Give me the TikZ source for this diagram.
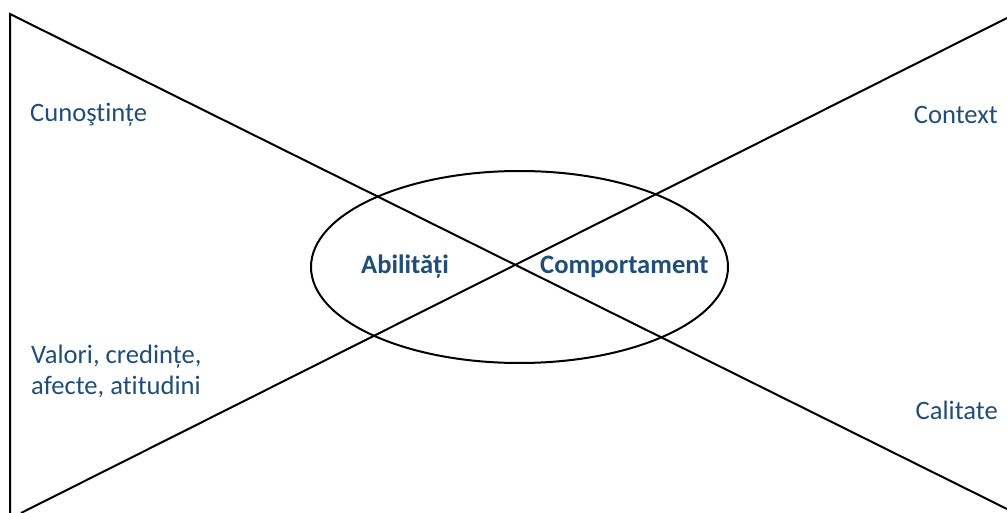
\documentclass[tikz,border=0pt]{standalone}
\usepackage{fontspec}
\usetikzlibrary{shapes.geometric}
\setmainfont[Ligatures=NoCommon]{Carlito}
\definecolor{txtblue}{RGB}{31,78,121}
\begin{document}
\begin{tikzpicture}[x=1pt,y=-1pt,
  lbl/.style={text=txtblue,font=\fontsize{26.6}{31}\selectfont,inner sep=0pt},
  blbl/.style={text=txtblue,font=\fontsize{26.6}{31}\selectfont\bfseries,inner sep=0pt},
  ln/.style={line width=2pt,black}]
\useasboundingbox (0,0) rectangle (1007,513);
\coordinate (tl) at (10,14);
\coordinate (bl) at (10,513);
\coordinate (br) at (1007,509);
\coordinate (bs) at (21,513);
\coordinate (tr) at (1007,18);
\draw[ln] (bl) -- (tl) -- (br);
\draw[ln] (bs) -- (tr);
\node[ln,draw,ellipse,minimum width=417pt,minimum height=192pt,inner sep=0pt] (ell) at (519.5,267) {};
\node[blbl,anchor=west] (abil) at (361,267) {Abilități};
\node[blbl,anchor=west] (comp) at (540,267) {Comportament};
\node[lbl,anchor=west] (cun) at (30,115) {Cunoştințe};
\node[lbl,anchor=east] (ctx) at (998,115) {Context};
\node[lbl,anchor=east] (cal) at (998,410) {Calitate};
\node[lbl,anchor=west,align=left] (val) at (31,371) {Valori, credințe,\\afecte, atitudini};
\end{tikzpicture}
\end{document}
